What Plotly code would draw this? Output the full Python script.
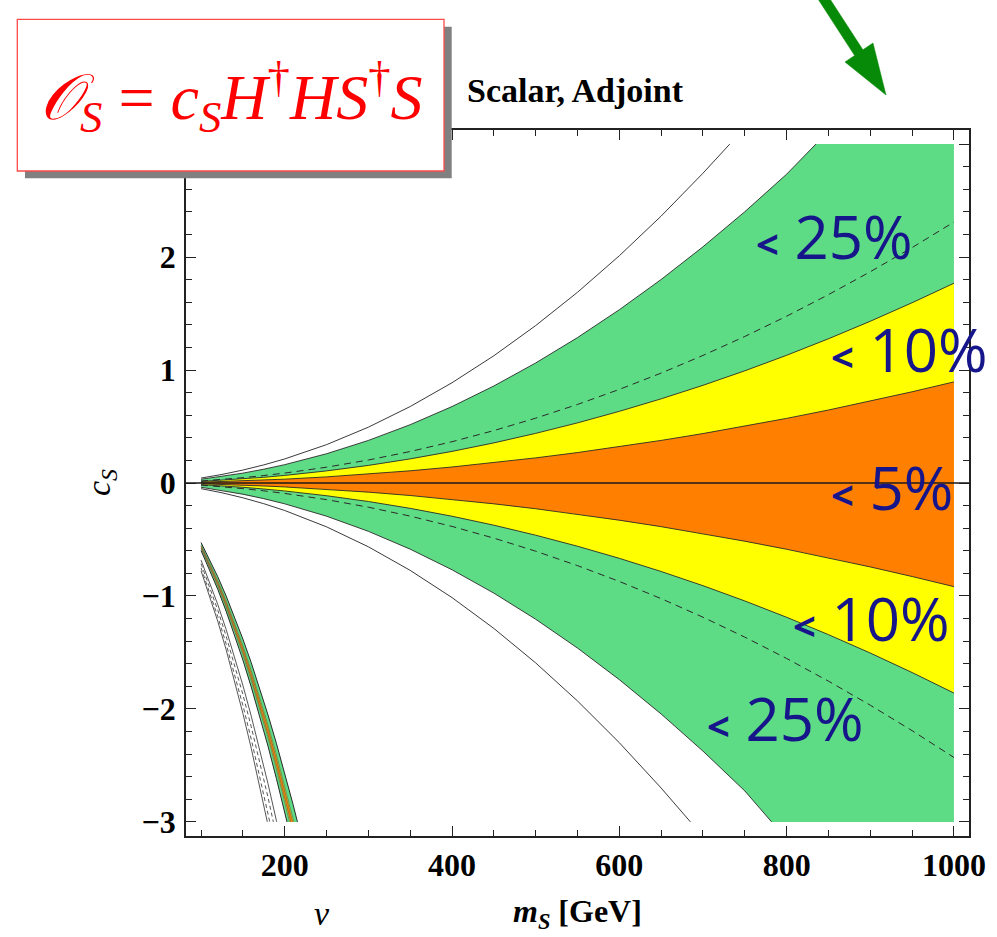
import plotly.graph_objects as go

# ---------------------------------------------------------------
# Data: boundaries of the allowed regions in the (m_S, c_S) plane
# ---------------------------------------------------------------
m_main = [100, 125, 150, 175, 200, 250, 300, 350, 400, 450, 500,
          550, 600, 650, 700, 750, 800, 850, 900, 950, 1000]

c_orange_hi = [0.007, 0.0121, 0.0183, 0.0256, 0.034, 0.0542, 0.0788, 0.108, 0.1416, 0.1797, 0.2224,
               0.2694, 0.321, 0.377, 0.4376, 0.5026, 0.5721, 0.6461, 0.7246, 0.8076, 0.895]
c_orange_lo = [-0.0072, -0.0124, -0.0187, -0.0262, -0.0348, -0.0555, -0.0808, -0.1107, -0.1452, -0.1843, -0.2279,
               -0.2762, -0.3291, -0.3865, -0.4486, -0.5152, -0.5865, -0.6623, -0.7428, -0.8279, -0.9175]
c_yellow_hi = [0.0138, 0.0239, 0.0361, 0.0505, 0.0672, 0.1071, 0.1558, 0.2134, 0.2799, 0.3552, 0.4394,
               0.5324, 0.6344, 0.7451, 0.8647, 0.9932, 1.1306, 1.2768, 1.4319, 1.5959, 1.7686]
c_yellow_lo = [-0.0145, -0.0251, -0.038, -0.0531, -0.0706, -0.1126, -0.1638, -0.2244, -0.2943, -0.3735, -0.462,
               -0.5598, -0.667, -0.7834, -0.9092, -1.0442, -1.1887, -1.3425, -1.5055, -1.6779, -1.8596]
c_dash_hi = [0.018, 0.0312, 0.0472, 0.066, 0.0877, 0.1398, 0.2035, 0.2787, 0.3655, 0.4639, 0.5739,
             0.6954, 0.8285, 0.9731, 1.1294, 1.2971, 1.4766, 1.6676, 1.8701, 2.0843, 2.31]
c_dash_lo = [-0.0189, -0.0328, -0.0496, -0.0694, -0.0923, -0.1471, -0.2141, -0.2932, -0.3845, -0.488, -0.6037,
             -0.7315, -0.8715, -1.0237, -1.1881, -1.3645, -1.5533, -1.7542, -1.9672, -2.1926, -2.4299]

# 25% band: upper edge leaves the plot range at c_S = 3, lower edge at c_S = -3
m_green_hi = [100, 125, 150, 175, 200, 250, 300, 350, 400, 450, 500, 550, 600, 650, 700, 750, 800, 835]
c_green_hi = [0.0333, 0.0578, 0.0873, 0.1222, 0.1624, 0.2589, 0.3768, 0.5161, 0.6768, 0.8589, 1.0625,
              1.2874, 1.534, 1.8017, 2.0911, 2.4016, 2.7339, 3.0]
m_green_lo = [100, 125, 150, 175, 200, 250, 300, 350, 400, 450, 500, 550, 600, 650, 700, 750, 782]
c_green_lo = [-0.0378, -0.0656, -0.0991, -0.1387, -0.1843, -0.2938, -0.4276, -0.5858, -0.7682, -0.9749,
              -1.206, -1.4613, -1.7411, -2.045, -2.3735, -2.7259, -3.0]

# outer solid contours
m_outer_hi = [100, 125, 150, 175, 200, 250, 300, 350, 400, 450, 500, 550, 600, 650, 700, 732]
c_outer_hi = [0.0437, 0.0758, 0.1146, 0.1603, 0.213, 0.3395, 0.4941, 0.6769, 0.8876, 1.1265, 1.3935,
              1.6885, 2.0118, 2.363, 2.7425, 3.0]
m_outer_lo = [100, 125, 150, 175, 200, 250, 300, 350, 400, 450, 500, 550, 600, 650, 685]
c_outer_lo = [-0.05, -0.0866, -0.1309, -0.1832, -0.2434, -0.388, -0.5647, -0.7735, -1.0144, -1.2874,
              -1.5925, -1.9296, -2.2991, -2.7003, -3.0]

# second (sign-flipped) solution near light m_S
m_strip = [100, 110, 120, 130, 140, 150, 160, 170, 180, 190, 200, 210]
s_green_a = [-0.527, -0.673, -0.83, -1.0, -1.184, -1.381, -1.591, -1.815, -2.052, -2.303, -2.567, -2.846]
s_green_b = [-0.598, -0.764, -0.942, -1.135, -1.343, -1.567, -1.806, -2.06, -2.329, -2.614, -2.914]
s_yellow_a = [-0.55, -0.703, -0.866, -1.044, -1.236, -1.442, -1.662, -1.895, -2.143, -2.405, -2.681, -2.972]
s_yellow_b = [-0.579, -0.739, -0.911, -1.098, -1.3, -1.516, -1.747, -1.992, -2.253, -2.529, -2.819]
s_orange_a = [-0.558, -0.712, -0.878, -1.058, -1.253, -1.461, -1.684, -1.92, -2.171, -2.437, -2.717]
s_orange_b = [-0.572, -0.73, -0.9, -1.085, -1.284, -1.498, -1.727, -1.969, -2.226, -2.499, -2.786]
end_green_a, end_green_b = 215.2, 202.7
end_yellow_a, end_yellow_b = 210.9, 205.9
end_orange_a, end_orange_b = 209.6, 207.1

s_gray_1 = [-0.683, -0.873, -1.076, -1.297, -1.535, -1.791, -2.064, -2.353, -2.661, -2.987]
s_gray_2 = [-0.714, -0.913, -1.125, -1.356, -1.605, -1.872, -2.158, -2.46, -2.782]
s_gray_3 = [-0.751, -0.959, -1.183, -1.425, -1.687, -1.968, -2.268, -2.587, -2.925]
s_gray_4 = [-0.778, -0.994, -1.225, -1.476, -1.747, -2.039, -2.349, -2.679]
end_gray = [190.4, 186.4, 182.1, 179.2]

x_ticks = [200, 400, 600, 800, 1000]
y_ticks = [-3, -2, -1, 0, 1, 2, 3]
y_labels = ["\u22123", "\u22122", "\u22121", "0", "1", "2", ""]  # top label sits under the operator box
C_MAX = 3.0

GREEN = "#5edb85"
YELLOW = "#ffff00"
ORANGE = "#ff7f00"
EDGE = "#2a2a2a"

# page geometry (pixels)
W, H = 997, 937
L, R, T, B = 186, 969, 130, 836


def px(x):
    return (x - L) / (R - L)


def py(y):
    return (B - y) / (B - T)


def curve(ms, cs, end_m=None, end_c=None):
    ms = list(ms[:len(cs)])
    cs = list(cs)
    if end_m is not None:
        ms.append(end_m)
        cs.append(end_c)
    return ms, cs


fig = go.Figure()


def add_band(m_hi, c_hi, m_lo, c_lo, color):
    xs = list(m_hi) + list(reversed(m_lo))
    ys = list(c_hi) + list(reversed(c_lo))
    fig.add_trace(go.Scatter(x=xs, y=ys, mode="lines", fill="toself", fillcolor=color,
                             line=dict(width=0), hoverinfo="skip", showlegend=False))


def add_line(xs, ys, dash="solid", width=1.0, color=EDGE):
    fig.add_trace(go.Scatter(x=xs, y=ys, mode="lines", line=dict(color=color, width=width, dash=dash),
                             hoverinfo="skip", showlegend=False))


# main wedge: 25% (green, clipped at |c_S| = 3), 10% (yellow), 5% (orange)
g_hi_x = m_green_hi + [m_main[-1]]
g_hi_y = c_green_hi + [C_MAX]
g_lo_x = m_green_lo + [m_main[-1]]
g_lo_y = c_green_lo + [-C_MAX]
add_band(g_hi_x, g_hi_y, g_lo_x, g_lo_y, GREEN)
add_band(m_main, c_yellow_hi, m_main, c_yellow_lo, YELLOW)
add_band(m_main, c_orange_hi, m_main, c_orange_lo, ORANGE)

for xs, ys in [(m_green_hi, c_green_hi), (m_green_lo, c_green_lo),
               (m_main, c_yellow_hi), (m_main, c_yellow_lo),
               (m_main, c_orange_hi), (m_main, c_orange_lo)]:
    add_line(xs, ys, width=0.9)

add_line(m_main, c_dash_hi, dash="7px,5px", width=1.0)
add_line(m_main, c_dash_lo, dash="7px,5px", width=1.0)
add_line(m_outer_hi, c_outer_hi, width=1.0, color="#3a3a3a")
add_line(m_outer_lo, c_outer_lo, width=1.0, color="#3a3a3a")

# light-mass strip
ga = curve(m_strip, s_green_a, end_green_a, -C_MAX)
gb = curve(m_strip, s_green_b, end_green_b, -C_MAX)
ya = curve(m_strip, s_yellow_a, end_yellow_a, -C_MAX)
yb = curve(m_strip, s_yellow_b, end_yellow_b, -C_MAX)
oa = curve(m_strip, s_orange_a, end_orange_a, -C_MAX)
ob = curve(m_strip, s_orange_b, end_orange_b, -C_MAX)
add_band(ga[0], ga[1], gb[0], gb[1], GREEN)
add_band(ya[0], ya[1], yb[0], yb[1], YELLOW)
add_band(oa[0], oa[1], ob[0], ob[1], ORANGE)
for xs, ys in [ga, gb]:
    add_line(xs, ys, width=1.0)
for xs, ys in [ya, yb, oa, ob]:
    add_line(xs, ys, width=0.6, color="#555555")

gray_curves = [s_gray_1, s_gray_2, s_gray_3, s_gray_4]
gray_dash = ["solid", "4px,3px", "4px,3px", "solid"]
for cs, e, d in zip(gray_curves, end_gray, gray_dash):
    xs, ys = curve(m_strip, cs, e, -C_MAX)
    add_line(xs, ys, dash=d, width=0.9, color="#444444")

# ---------------------------------------------------------------
# Axes
# ---------------------------------------------------------------
tick_font = dict(family="Liberation Serif", size=32, color="black", weight="bold")
common = dict(showline=True, linecolor="#222222", linewidth=1.5, mirror="allticks",
              ticks="inside", ticklen=10, tickwidth=1.3, tickcolor="#222222",
              showgrid=False, zeroline=False, tickfont=tick_font)

fig.update_xaxes(range=[82, 1018], tickmode="array", tickvals=x_ticks,
                 minor=dict(ticks="inside", ticklen=6, tickwidth=1.1, tickcolor="#222222",
                            dtick=50, tick0=0),
                 ticklabelstandoff=0, **common)
fig.update_yaxes(range=[-3.125, 3.125], tickmode="array", tickvals=y_ticks, ticktext=y_labels,
                 minor=dict(ticks="inside", ticklen=6, tickwidth=1.1, tickcolor="#222222",
                            dtick=0.2, tick0=0),
                 ticklabelstandoff=2, **common)

shapes = [
    # c_S = 0 reference line
    dict(type="line", xref="paper", yref="y", x0=0, x1=1, y0=0, y1=0,
         line=dict(color="#1a1a1a", width=1.3), layer="above"),
    # operator box with drop shadow
    dict(type="rect", xref="paper", yref="paper", x0=px(25), x1=px(451.7), y0=py(178.3), y1=py(26.7),
         fillcolor="#808080", line=dict(width=0), layer="above"),
    dict(type="rect", xref="paper", yref="paper", x0=px(17.3), x1=px(444), y0=py(171), y1=py(19.3),
         fillcolor="white", line=dict(color="#ff4a4a", width=1.3), layer="above"),
]

# green arrow in the top right corner
arrow_pts = [(816.7, -3), (854.6, 55.5), (845, 62), (886, 95), (873, 43), (862.9, 49.8), (828.7, -3)]
path = "M " + " L ".join(f"{px(x):.5f},{py(y):.5f}" for x, y in arrow_pts) + " Z"
shapes.append(dict(type="path", xref="paper", yref="paper", path=path,
                   fillcolor="#078a07", line=dict(color="#078a07", width=0.5), layer="above"))

serif = "Liberation Serif"
label_font = dict(family="Open Sans", size=60, color="#16168a")


def band_label(x_left, y_mid, pct):
    return dict(xref="paper", yref="paper", x=px(x_left), y=py(y_mid), xanchor="left", yanchor="middle",
                text=f"<span style='font-size:40px;font-weight:bold'>&lt;</span> {pct}",
                showarrow=False, font=label_font)


annotations = [
    dict(xref="paper", yref="paper", x=px(231), y=py(97), xanchor="center", yanchor="middle",
         text="<i>\U0001D4AA</i><sub><i>S</i></sub> = <i>c</i><sub><i>S</i></sub><i>H</i><sup>\u2020</sup>"
              "<i>HS</i><sup>\u2020</sup><i>S</i>",
         showarrow=False, font=dict(family=serif, size=64, color="#ff0000")),
    dict(xref="paper", yref="paper", x=px(465), y=py(91), xanchor="left", yanchor="middle",
         text="<b>Scalar, Adjoint</b>", showarrow=False, font=dict(family=serif, size=34, color="black")),
    dict(xref="paper", yref="paper", x=px(101), y=py(483), xanchor="center", yanchor="middle",
         text="<i>c</i><sub><i>S</i></sub>", textangle=-90, showarrow=False,
         font=dict(family=serif, size=34, color="black")),
    dict(xref="paper", yref="paper", x=px(577), y=py(913), xanchor="center", yanchor="middle",
         text="<b><i>m</i><sub><i>S</i></sub> [GeV]</b>", showarrow=False,
         font=dict(family=serif, size=32, color="black")),
    dict(xref="paper", yref="paper", x=px(322), y=py(913), xanchor="center", yanchor="middle",
         text="<i>v</i>", showarrow=False, font=dict(family=serif, size=34, color="black")),
    band_label(754, 236, "25%"),
    band_label(829, 349, "10%"),
    band_label(829, 487, "5%"),
    band_label(791, 618, "10%"),
    band_label(705, 718, "25%"),
]

fig.update_layout(width=W, height=H, margin=dict(l=L, r=W - R, t=T, b=H - B),
                  paper_bgcolor="white", plot_bgcolor="white",
                  shapes=shapes, annotations=annotations, showlegend=False)

fig.write_html("out.html")
